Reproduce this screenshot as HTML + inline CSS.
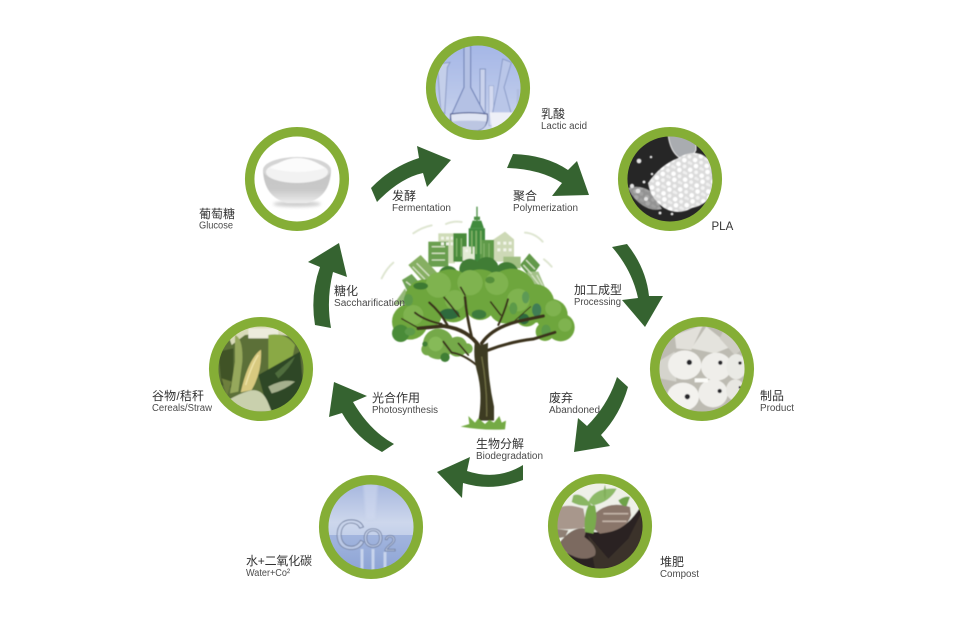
<!DOCTYPE html>
<html lang="zh">
<head>
<meta charset="utf-8">
<title>PLA cycle</title>
<style>
html,body{margin:0;padding:0;background:#fff;width:956px;height:635px;overflow:hidden}
svg{display:block}
.c{font-family:"Liberation Sans","Noto Sans CJK SC",sans-serif;font-size:12px;fill:#333}
.e{font-family:"Liberation Sans","Noto Sans CJK SC",sans-serif;font-size:10px;fill:#4a4a4a}
</style>
</head>
<body>
<svg width="956" height="635" viewBox="0 0 956 635" xmlns="http://www.w3.org/2000/svg">
<defs>
<filter id="b" x="-10%" y="-10%" width="120%" height="120%"><feGaussianBlur stdDeviation="1.5"/></filter>
<filter id="bs" x="-10%" y="-10%" width="120%" height="120%"><feGaussianBlur stdDeviation="1.2"/></filter>
<filter id="bt" x="-10%" y="-10%" width="120%" height="120%"><feGaussianBlur stdDeviation=".5"/></filter>
<filter id="b2" x="-20%" y="-50%" width="140%" height="200%"><feGaussianBlur stdDeviation="1.6"/></filter>
<linearGradient id="sky1" x1="0" y1="0" x2="0" y2="1"><stop offset="0" stop-color="#a3b5e6"/><stop offset=".6" stop-color="#bcc9ea"/><stop offset="1" stop-color="#d3dbf1"/></linearGradient>
<linearGradient id="sky2" x1="0" y1="0" x2="0" y2="1"><stop offset="0" stop-color="#a4b5de"/><stop offset=".75" stop-color="#cdd7ec"/><stop offset="1" stop-color="#c3d0ea"/></linearGradient>
<linearGradient id="water" x1="0" y1="0" x2="0" y2="1"><stop offset="0" stop-color="#a2b5de"/><stop offset="1" stop-color="#8ba2d4"/></linearGradient>
<linearGradient id="bowl" x1="0" y1="0" x2="0" y2="1"><stop offset="0" stop-color="#c4c4c4"/><stop offset=".6" stop-color="#c9c9c9"/><stop offset="1" stop-color="#ececec"/></linearGradient>
<pattern id="pel" x="0" y="0" width="13" height="11" patternUnits="userSpaceOnUse" patternTransform="rotate(27)">
<rect width="13" height="11" fill="#dcdcdc"/>
<circle cx="3" cy="3" r="2.3" fill="#fff"/><circle cx="9.500" cy="2.500" r="1.900" fill="#f6f6f6"/><circle cx="6.500" cy="8" r="2.300" fill="#fff"/><circle cx="12" cy="8" r="1.500" fill="#f0f0f0"/><circle cx="1" cy="8" r="1.300" fill="#f0f0f0"/>
</pattern>
<clipPath id="c1"><circle cx="478" cy="88" r="43"/></clipPath>
<clipPath id="c2"><circle cx="670" cy="179" r="43"/></clipPath>
<clipPath id="c3"><circle cx="702" cy="369" r="43"/></clipPath>
<clipPath id="c4"><circle cx="600" cy="526" r="43"/></clipPath>
<clipPath id="c5"><circle cx="371" cy="527" r="43"/></clipPath>
<clipPath id="c6"><circle cx="261" cy="369" r="43"/></clipPath>
<clipPath id="c7"><circle cx="297" cy="179" r="43"/></clipPath>
</defs>
<rect width="956" height="635" fill="#fff"/>

<!-- Arrows -->
<g fill="#356330">
<path d="M371 188 Q391 167 419 158 L417 146 L451 160 L427 187 L423 173 Q400 178 377 202 Z"/>
<path d="M513 154 Q546 155 568 170 L577 161 L589 195 L552 196 L562 183 Q540 169 507 168 Z"/>
<path d="M612 247 L627 244 Q646 268 649 296 L663 296 L645 327 L622 300 L638 298 Q632 270 612 247 Z"/>
<path d="M617 377 L628 387 Q620 415 601 435 L610 446 L574 452 L578 418 L587 426 Q608 405 617 377 Z"/>
<path d="M523 465 L523 480 Q492 492 463 483 L462 498 L437 472 L470 457 L467 471 Q497 481 523 465 Z"/>
<path d="M394 444 L382 452 Q356 438 342 413 L329 417 L334 382 L367 396 L353 402 Q370 431 394 444 Z"/>
<path d="M315 325 Q310 295 320 267 L308 262 L339 243 L347 277 L333 272 Q326 300 331 328 Z"/>
</g>

<!-- Lactic acid image -->
<g clip-path="url(#c1)"><g transform="translate(424 34) scale(.33333)"><g filter="url(#b)">
<rect x="20" y="20" width="290" height="290" fill="url(#sky1)"/>
<path d="M40 90 L78 85 L70 100 L62 240 L50 230 Z" fill="#c4cfea" stroke="#8c9bc6" stroke-width="3"/>
<path d="M168 105 h16 v130 h-16 Z" fill="#c9d2ec" stroke="#8294c2" stroke-width="3"/>
<path d="M195 155 h14 v120 h-14 Z" fill="#d3daf0" stroke="#98a8d0" stroke-width="2"/>
<path d="M236 75 L262 85 L240 160 L262 240 L205 240 L222 160 Z" fill="#b9c6e8" stroke="#8a9bc8" stroke-width="3"/>
<path d="M197 235 H268 L262 290 H205 Z" fill="#eef0f7"/>
<path d="M278 165 h8 v90 h-8 Z" fill="#b0bde0"/>
<path d="M120 35 h20 v125 l45 85 q10 32 -22 45 h-60 q-32 -13 -22 -45 l39 -85 Z" fill="#b4c1e4" stroke="#7486ba" stroke-width="3.500"/>
<path d="M80 240 q55 -8 110 0 q5 38 -28 49 h-55 q-30 -10 -27 -49 Z" fill="#e0e5f3" stroke="#515f92" stroke-width="3.500"/>
<path d="M83 262 q50 -4 104 0 q-2 22 -26 27 h-54 q-22 -6 -24 -27 Z" fill="#bcc6e2"/>
</g></g></g>

<!-- PLA image -->
<g clip-path="url(#c2)">
<rect x="625" y="134" width="90" height="90" fill="#262626"/>
<g filter="url(#bt)">
<path d="M668 134 h28 v16 q-6 12 -16 8 q-10 -6 -12 -24 Z" fill="#a9acb0" stroke="#e6e6e6" stroke-width="1"/>
<path d="M648 183 Q660 165 678 158 Q698 146 711 162 L714 190 Q708 205 692 208 Q678 216 664 208 Q650 198 648 183 Z" fill="url(#pel)"/>
<path d="M628 188 Q640 184 652 192 L662 209 Q652 212 642 205 Q632 198 628 188 Z" fill="url(#pel)" opacity=".6"/>
<g fill="#e4e4e4">
<circle cx="639" cy="161" r="2.400"/><circle cx="651" cy="157" r="1.300"/><circle cx="652" cy="174" r="1.300"/><circle cx="660" cy="213" r="1.500"/><circle cx="632" cy="186" r="2.200"/><circle cx="638" cy="191" r="2.400"/><circle cx="646" cy="199" r="2"/><circle cx="644" cy="182" r="1.500"/><circle cx="672" cy="214" r="1.400"/>
</g>
</g>
</g>

<!-- Product image -->
<g clip-path="url(#c3)"><g transform="translate(648 315) scale(.33333)"><g filter="url(#bs)">
<rect x="30" y="30" width="270" height="270" fill="#bdbbb2"/>
<path d="M80 60 L165 30 L130 105 L85 100 Z" fill="#e2e0da"/>
<path d="M130 100 L175 35 L250 95 L200 115 Z" fill="#e4e3dd"/>
<path d="M230 40 L300 90 L260 120 L215 70 Z" fill="#cfcdc5"/>
<path d="M30 140 L80 110 L85 200 L35 190 Z" fill="#d5d4cd"/>
<ellipse cx="110" cy="150" rx="50" ry="44" fill="#f1f0ec"/>
<ellipse cx="205" cy="155" rx="46" ry="42" fill="#efeeea"/>
<ellipse cx="265" cy="155" rx="30" ry="38" fill="#eaeae5"/>
<ellipse cx="105" cy="245" rx="48" ry="42" fill="#f3f2ee"/>
<ellipse cx="195" cy="235" rx="44" ry="42" fill="#efeeea"/>
<ellipse cx="262" cy="225" rx="28" ry="32" fill="#e8e7e2"/>
<rect x="140" y="190" width="40" height="12" fill="#fbfbf8"/>
<g fill="#26262a"><circle cx="124" cy="142" r="8"/><circle cx="217" cy="143" r="6.500"/><circle cx="276" cy="144" r="5"/><circle cx="118" cy="245" r="8"/><circle cx="215" cy="228" r="6.500"/><circle cx="276" cy="217" r="4"/></g>
</g></g></g>

<!-- Compost image -->
<g clip-path="url(#c4)"><g transform="translate(545 472) scale(.33333)"><g filter="url(#bs)">
<rect x="30" y="30" width="270" height="270" fill="#eef0e8"/>
<path d="M295 90 L300 300 L90 300 L60 250 L120 180 L190 180 Q250 170 295 90 Z" fill="#2b2420"/>
<path d="M130 190 L190 260 L250 200 L290 120 L295 280 L150 290 Z" fill="#3a312b"/>
<path d="M30 115 Q60 90 115 110 L125 165 Q80 175 30 170 Z" fill="#a8978c"/>
<path d="M150 125 Q190 85 255 105 L258 130 Q245 175 165 185 L145 170 Z" fill="#8a766a"/>
<path d="M175 125 H250 M172 148 H245" stroke="#c2b2a6" stroke-width="5" fill="none"/>
<path d="M30 170 L70 175 L60 195 L32 200 Z" fill="#8f8074"/>
<path d="M45 210 Q85 160 125 170 L118 195 Q160 225 150 250 Q120 270 80 250 Q50 240 45 210 Z" fill="#7c6b60"/>
<path d="M120 180 Q115 130 130 100 L150 100 Q160 140 145 185 Z" fill="#79ab4e"/>
<path d="M85 70 Q110 60 140 100 Q105 105 80 90 Z" fill="#8ab663"/>
<path d="M130 90 Q150 45 215 50 Q195 90 145 100 Z" fill="#8dba68"/>
<path d="M180 38 Q186 60 180 85 Q172 60 180 38 Z" fill="#82ae5b"/>
<path d="M220 85 Q240 70 255 75 L245 102 Q230 105 220 85 Z" fill="#6ea24a"/>
</g></g></g>

<!-- CO2 image -->
<g clip-path="url(#c5)">
<rect x="325" y="482" width="92" height="54" fill="url(#sky2)"/>
<rect x="325" y="535" width="92" height="40" fill="url(#water)"/>
<path d="M363 484 h15 l-3 35 h-9 Z" fill="#d2dbf0" opacity=".55" filter="url(#bs)"/>
<g filter="url(#bt)">
<g font-family="Liberation Sans, sans-serif" fill="#c6d2ea" fill-opacity=".7" stroke="#6f7d9d" stroke-width=".8">
<text x="335" y="549" font-size="42">C</text>
<text x="363" y="547" font-size="26">O</text>
<text x="384" y="551" font-size="22">2</text>
</g>
<path d="M362 549 v22 M373 549 v23 M385 552 v16" stroke="#dde5f5" stroke-width="3" opacity=".7"/>
</g>
</g>

<!-- Cereals image -->
<g clip-path="url(#c6)"><g transform="translate(205 315) scale(.33333)"><g filter="url(#bs)">
<rect x="30" y="30" width="270" height="270" fill="#5b6f38"/>
<path d="M60 30 H290 V70 Q200 50 120 60 L80 90 Z" fill="#d8dab8"/>
<path d="M130 40 H220 V70 H130 Z" fill="#ecebdc"/>
<path d="M190 60 Q240 50 270 90 L260 140 L190 170 Z" fill="#8aa945"/>
<path d="M40 110 L85 100 L85 220 L50 210 Z" fill="#3f5226"/>
<path d="M90 60 Q115 70 112 140 L100 230 L75 235 L90 140 Z" fill="#96a85c"/>
<path d="M160 180 L285 110 L300 270 L190 290 Z" fill="#2e4726"/>
<path d="M190 215 Q235 190 270 200 Q240 225 200 235 Z" fill="#a5b08d"/>
<path d="M210 175 Q245 145 270 125 Q255 160 220 190 Z" fill="#4f6d3d"/>
<path d="M107 232 Q130 130 168 104 Q172 170 140 225 Z" fill="#d8c97f"/>
<path d="M122 210 Q140 150 160 120" stroke="#efe4a8" stroke-width="4" fill="none"/>
<path d="M70 255 Q105 235 130 228 Q170 215 190 265 L200 290 H100 Z" fill="#c9d0ad"/>
<path d="M50 190 L80 200 L65 245 Z" fill="#6e7f3c"/>
</g></g></g>

<!-- Glucose image -->
<g clip-path="url(#c7)">
<rect x="250" y="135" width="94" height="90" fill="#fff"/>
<ellipse cx="297" cy="204" rx="24" ry="3" fill="#cfcfcf" filter="url(#b2)"/>
<g filter="url(#bt)">
<path d="M263 170 Q264 197 287 203 h20 Q330 197 331 170 Z" fill="url(#bowl)"/>
<ellipse cx="297" cy="170" rx="34" ry="13" fill="#d4d4d4"/>
<ellipse cx="297" cy="172" rx="31" ry="11" fill="#f2f2f2"/>
<path d="M270 168 Q285 158 297 158 Q312 158 325 168 Q298 176 270 168 Z" fill="#fbfbfb"/>
</g>
</g>

<!-- Rings -->
<g fill="none" stroke="#85ae36" stroke-width="9.500">
<circle cx="478" cy="88" r="47.300"/>
<circle cx="670" cy="179" r="47.300"/>
<circle cx="702" cy="369" r="47.300"/>
<circle cx="600" cy="526" r="47.300"/>
<circle cx="371" cy="527" r="47.300"/>
<circle cx="261" cy="369" r="47.300"/>
<circle cx="297" cy="179" r="47.300"/>
</g>

<!-- Tree -->
<g transform="translate(370 200) scale(.33333)">
<g filter="url(#bs)">
<g fill="none" stroke="#dfe6d2" stroke-width="6" stroke-linecap="round">
<path d="M130 100 Q155 82 185 76"/><path d="M228 72 Q250 62 275 66"/><path d="M465 98 Q495 100 518 125"/><path d="M522 178 Q535 188 545 200"/><path d="M35 235 Q50 205 70 188"/>
</g>
<!-- city -->
<rect x="205" y="100" width="50" height="90" fill="#cfdcb8"/>
<path d="M368 120 L405 95 L432 118 V185 H368 Z" fill="#cdd9b6"/>
<rect x="175" y="125" width="60" height="75" fill="#6b9f50"/>
<path d="M115 195 L152 165 L205 222 L165 252 Z" fill="#86af62"/>
<rect x="250" y="100" width="40" height="85" fill="#4a8a3a"/>
<rect x="296" y="85" width="49" height="100" fill="#3f8a3e"/>
<path d="M300 85 L308 62 H334 L342 85 Z" fill="#3f8a3e"/>
<rect x="319" y="20" width="4" height="45" fill="#4f9247"/>
<rect x="312" y="50" width="18" height="10" fill="#4f9247"/>
<rect x="330" y="120" width="42" height="65" fill="#5e9a48"/>
<rect x="278" y="140" width="36" height="42" fill="#e3ecd5"/>
<path d="M450 195 L478 160 L510 195 L482 235 Z" fill="#62994a"/>
<rect x="400" y="170" width="52" height="35" fill="#a0bf82"/>
<path d="M96 240 L125 222 L150 250 L115 280 Z" fill="#6ea254"/>
<path d="M472 215 L505 215 L535 285 L480 265 Z" fill="#a3c188"/>
<path d="M70 315 L105 265 L125 310 Z" fill="#94b878"/>
<g fill="#f2f5ea">
<rect x="213" y="110" width="9" height="9"/><rect x="228" y="110" width="9" height="9"/><rect x="242" y="110" width="7" height="9"/><rect x="213" y="127" width="9" height="9"/><rect x="228" y="127" width="9" height="9"/><rect x="242" y="127" width="7" height="9"/>
<rect x="382" y="125" width="9" height="9"/><rect x="400" y="125" width="9" height="9"/><rect x="416" y="125" width="9" height="9"/><rect x="382" y="145" width="9" height="9"/><rect x="400" y="145" width="9" height="9"/><rect x="416" y="145" width="9" height="9"/>
<rect x="286" y="148" width="8" height="8"/><rect x="300" y="148" width="8" height="8"/>
</g>
<g fill="#7fb165"><rect x="303" y="92" width="5" height="70"/><rect x="316" y="92" width="5" height="70"/><rect x="330" y="92" width="5" height="70"/><rect x="258" y="115" width="4" height="55"/><rect x="272" y="115" width="4" height="55"/><rect x="340" y="130" width="4" height="45"/><rect x="355" y="130" width="4" height="45"/></g>
<g stroke="#d4e2c2" stroke-width="4" fill="none"><path d="M128 200 L165 238"/><path d="M140 190 L178 228"/><path d="M468 180 L495 208"/><path d="M460 195 L485 222"/><path d="M485 225 L520 270"/><path d="M500 225 L528 275"/><path d="M108 245 L130 262"/><path d="M185 140 H225 M185 160 H225 M185 180 H225"/></g>
<!-- crown -->
<g fill="#3f7d36">
<circle cx="300" cy="208" r="32"/><circle cx="350" cy="207" r="36"/><circle cx="410" cy="222" r="36"/><circle cx="235" cy="228" r="30"/>
</g>
<g fill="#6ea63e">
<circle cx="240" cy="280" r="72"/><circle cx="330" cy="280" r="72"/><circle cx="425" cy="280" r="74"/><circle cx="165" cy="300" r="62"/><circle cx="495" cy="310" r="58"/><circle cx="120" cy="365" r="54"/><circle cx="545" cy="345" r="48"/><circle cx="572" cy="382" r="42"/><circle cx="175" cy="345" r="40"/><circle cx="250" cy="315" r="52"/><circle cx="330" cy="315" r="45"/><circle cx="405" cy="320" r="50"/><circle cx="470" cy="345" r="35"/><circle cx="525" cy="395" r="28"/>
</g>
<g fill="#7fb34f">
<circle cx="205" cy="255" r="38"/><circle cx="300" cy="248" r="38"/><circle cx="380" cy="250" r="35"/><circle cx="445" cy="300" r="34"/><circle cx="130" cy="345" r="30"/><circle cx="550" cy="325" r="24"/><circle cx="585" cy="375" r="20"/><circle cx="255" cy="300" r="30"/>
</g>
<g fill="#4a8b38">
<circle cx="92" cy="400" r="26"/><ellipse cx="152" cy="258" rx="22" ry="11" fill="#3e7a30"/><ellipse cx="500" cy="330" rx="14" ry="20" fill="#3f7e55"/><ellipse cx="467" cy="292" rx="11" ry="18" fill="#5d9a55"/><ellipse cx="115" cy="300" rx="14" ry="18" fill="#5d9a48"/><ellipse cx="327" cy="343" rx="22" ry="14" fill="#3d7c3c"/><ellipse cx="238" cy="342" rx="30" ry="16" fill="#2f6a3c"/><ellipse cx="462" cy="357" rx="16" ry="16" fill="#2f6a3c"/><ellipse cx="528" cy="392" rx="14" ry="18" fill="#5c9a48"/><ellipse cx="120" cy="395" rx="16" ry="12" fill="#5c9a48"/><ellipse cx="360" cy="240" rx="14" ry="10" fill="#548f3a"/><ellipse cx="430" cy="325" rx="12" ry="18" fill="#5c9a48"/>
</g>
<g fill="#75a94a"><circle cx="205" cy="432" r="46"/><circle cx="262" cy="440" r="30"/><circle cx="292" cy="446" r="16"/><circle cx="172" cy="448" r="18"/></g>
<circle cx="197" cy="432" r="22" fill="#86ba58"/>
<circle cx="225" cy="472" r="14" fill="#3f7f36"/><circle cx="165" cy="432" r="8" fill="#3f7f36"/>
<!-- branches -->
<g fill="none" stroke="#3a321b" stroke-linecap="round">
<path d="M328 440 Q295 388 220 378 L145 385" stroke-width="11"/>
<path d="M215 372 Q165 362 135 338" stroke-width="6"/>
<path d="M145 384 L95 356" stroke-width="4"/>
<path d="M305 410 Q290 350 285 292" stroke-width="8"/>
<path d="M268 350 Q240 312 222 292" stroke-width="5"/>
<path d="M232 375 Q210 335 178 308" stroke-width="7"/>
<path d="M272 262 L285 285" stroke-width="5"/>
<path d="M335 430 Q365 385 440 365 L520 348" stroke-width="10"/>
<path d="M350 452 Q420 425 490 417 L555 397" stroke-width="9"/>
<path d="M385 375 Q402 340 414 298" stroke-width="6"/>
<path d="M392 345 L362 306" stroke-width="5"/>
<path d="M425 370 L482 320" stroke-width="3"/>
<path d="M322 497 Q280 462 245 458 L220 425" stroke-width="6"/>
<path d="M295 465 L265 430" stroke-width="5"/>
</g>
<!-- trunk -->
<path d="M314 430 Q333 440 354 428 Q350 520 372 620 L372 662 L325 662 Q340 580 320 510 Q310 470 314 430 Z" fill="#3c3a20"/>
<path d="M335 470 Q352 560 350 650" stroke="#6e6d42" stroke-width="4" fill="none"/>
<!-- grass -->
<path d="M272 680 L298 672 L295 648 L315 668 L325 655 L345 672 L358 660 L372 668 L388 648 L395 668 L408 662 L405 688 Q340 692 272 680 Z" fill="#74aa44"/>
</g>
</g>

<!-- Labels -->
<text class="c" x="541" y="118">乳酸</text>
<text class="e" x="541" y="129" textLength="46" lengthAdjust="spacingAndGlyphs">Lactic acid</text>
<text class="c" x="392" y="200">发酵</text>
<text class="e" x="392" y="211" textLength="59" lengthAdjust="spacingAndGlyphs">Fermentation</text>
<text class="c" x="513" y="200">聚合</text>
<text class="e" x="513" y="211" textLength="65" lengthAdjust="spacingAndGlyphs">Polymerization</text>
<text class="c" x="711.500" y="230" style="font-size:11.500px">PLA</text>
<text class="c" x="199" y="218">葡萄糖</text>
<text class="e" x="199" y="228.500" textLength="34" lengthAdjust="spacingAndGlyphs">Glucose</text>
<text class="c" x="334" y="295">糖化</text>
<text class="e" x="334" y="306" textLength="71" lengthAdjust="spacingAndGlyphs">Saccharification</text>
<text class="c" x="152" y="400" textLength="52">谷物/秸秆</text>
<text class="e" x="152" y="411" textLength="60" lengthAdjust="spacingAndGlyphs">Cereals/Straw</text>
<text class="c" x="372" y="402">光合作用</text>
<text class="e" x="372" y="413" textLength="66" lengthAdjust="spacingAndGlyphs">Photosynthesis</text>
<text class="c" x="574" y="294">加工成型</text>
<text class="e" x="574" y="305" textLength="47" lengthAdjust="spacingAndGlyphs">Processing</text>
<text class="c" x="549" y="402">废弃</text>
<text class="e" x="549" y="413" textLength="51" lengthAdjust="spacingAndGlyphs">Abandoned</text>
<text class="c" x="760" y="400">制品</text>
<text class="e" x="760" y="411" textLength="34" lengthAdjust="spacingAndGlyphs">Product</text>
<text class="c" x="476" y="448">生物分解</text>
<text class="e" x="476" y="459" textLength="67" lengthAdjust="spacingAndGlyphs">Biodegradation</text>
<text class="c" x="246" y="565" textLength="66">水+二氧化碳</text>
<text class="e" x="246" y="576" textLength="44" lengthAdjust="spacingAndGlyphs">Water+Co²</text>
<text class="c" x="660" y="566">堆肥</text>
<text class="e" x="660" y="577" textLength="39" lengthAdjust="spacingAndGlyphs">Compost</text>
</svg>
</body>
</html>
